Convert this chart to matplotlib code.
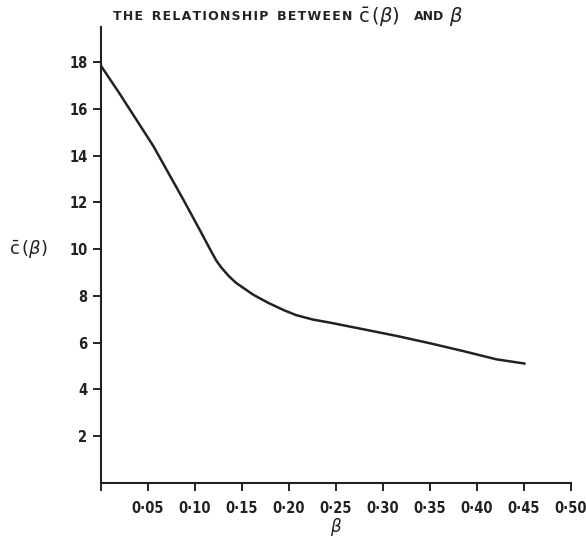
import matplotlib
matplotlib.use("Agg")
import matplotlib.pyplot as plt

# === Data ===
beta = [0.0, 0.02, 0.04, 0.056, 0.072, 0.088, 0.105, 0.118, 0.123, 0.128,
        0.136, 0.144, 0.162, 0.178, 0.195, 0.208, 0.226, 0.244, 0.279,
        0.315, 0.350, 0.385, 0.421, 0.451]
c_bar = [17.85, 16.65, 15.4, 14.4, 13.25, 12.1, 10.84, 9.86, 9.5, 9.22,
         8.85, 8.55, 8.05, 7.70, 7.38, 7.17, 6.98, 6.85, 6.57,
         6.28, 5.97, 5.64, 5.28, 5.1]

x_ticks = [0.0, 0.05, 0.10, 0.15, 0.20, 0.25, 0.30, 0.35, 0.40, 0.45, 0.50]
x_labels = ["", "0·05", "0·10", "0·15", "0·20", "0·25", "0·30", "0·35", "0·40", "0·45", "0·50"]
y_ticks = [2, 4, 6, 8, 10, 12, 14, 16, 18]

plt.rcParams["font.family"] = ["DejaVu Sans"]
plt.rcParams["mathtext.fontset"] = "dejavusans"

ink = "#222222"

fig = plt.figure(figsize=(5.86, 5.40), dpi=100)
ax = fig.add_axes([0.172, 0.106, 0.802, 0.844])

ax.plot(beta, c_bar, color=ink, linewidth=1.8, solid_capstyle="round",
        solid_joinstyle="round")

ax.set_xlim(0, 0.50)
ax.set_ylim(0, 19.5)
ax.spines["top"].set_visible(False)
ax.spines["right"].set_visible(False)
for s in ("left", "bottom"):
    ax.spines[s].set_linewidth(1.5)
    ax.spines[s].set_color(ink)

ax.set_xticks(x_ticks)
ax.set_xticklabels(x_labels)
ax.set_yticks(y_ticks)
ax.tick_params(axis="both", length=6, width=1.4, color=ink,
               labelsize=10.5, labelcolor=ink)
ax.tick_params(axis="x", pad=7)
for lbl in ax.get_xticklabels() + ax.get_yticklabels():
    lbl.set_fontweight("bold")
    lbl.set_fontstretch("condensed")

ax.set_xlabel(r"$\beta$", fontsize=12, color=ink, va="center")
ax.xaxis.set_label_coords(0.5, -(527 - 483) / (483 - 27))
ax.set_ylabel(r"$\bar{\mathrm{c}}\,(\beta)$", fontsize=13, color=ink,
              rotation=0, va="center", ha="center")
ax.yaxis.set_label_coords(-0.155, (483 - 249) / (483 - 27))

# title pieces, the symbols are drawn larger than the capitals
hs = "\u200a"
title_y = 1 - 17 / 540
fig.text(352 / 586, title_y, "  ".join(hs.join(w) for w in ["THE", "RELATIONSHIP", "BETWEEN"]),
         ha="right", va="center", fontsize=9, fontweight="bold", color=ink)
fig.text(358 / 586, title_y, r"$\bar{\mathrm{c}}\,(\beta)$",
         ha="left", va="center", fontsize=14, color=ink)
fig.text(414 / 586, title_y, "AND",
         ha="left", va="center", fontsize=9, fontweight="bold", color=ink)
fig.text(449 / 586, title_y, r"$\beta$",
         ha="left", va="center", fontsize=14, color=ink)

fig.savefig("out.png", dpi=100, facecolor="white")
